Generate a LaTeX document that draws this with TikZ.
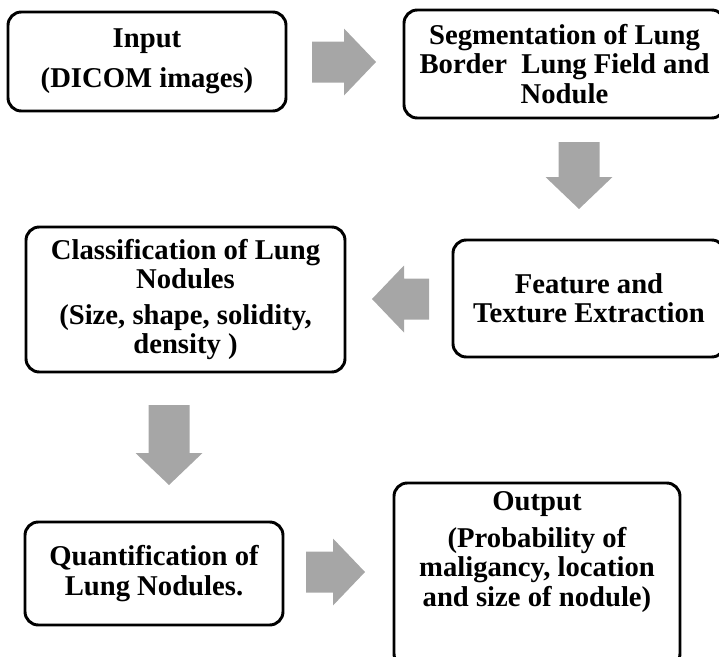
\documentclass[tikz,border=0pt]{standalone}
\usepackage{fontspec}
\setmainfont{Liberation Serif}
\definecolor{arrowgray}{HTML}{A6A6A6}
\begin{document}
\begin{tikzpicture}[x=0.75pt, y=-0.75pt, font=\bfseries\fontsize{21.5}{22}\selectfont,
      box/.style={draw, line width=2.2pt, rounded corners=10pt, align=center, inner sep=0pt},
      txt/.style={align=center, inner sep=0pt},
      pics/barrow/.style={code={\fill[arrowgray] (0,-20.5) -- (#1-32,-20.5) -- (#1-32,-33.5) -- (#1,0) -- (#1-32,33.5) -- (#1-32,20.5) -- (0,20.5) -- cycle;}}]
    \useasboundingbox (0,0) rectangle (719,657);
    \clip (0,0) rectangle (719,657);
    % the six steps
    \node[box, minimum width=208.5pt, minimum height=74.25pt] (input) at (147,61.5) {Input\\[8pt](DICOM images)};
    \node[box, minimum width=240.75pt, minimum height=81pt] (seg) at (564.5,64) {Segmentation of Lung\\Border~ Lung Field and\\Nodule};
    \node[box, minimum width=204pt, minimum height=87.75pt] (feat) at (589,298.5) {Feature and\\Texture Extraction};
    \node[box, minimum width=239.25pt, minimum height=108.75pt] (cls) at (185.5,299.5) {Classification of Lung\\Nodules\\[5pt](Size, shape, solidity,\\density )};
    \node[box, minimum width=193.5pt, minimum height=77.25pt] (quant) at (154,573.5) {Quantification of\\Lung Nodules.};
    \node[box, minimum width=214.5pt, minimum height=138pt] (out) at (537,575) {};
    \node[txt, anchor=north] (outtxt) at (537,491) {Output\\[6pt](Probability of\\maligancy, location\\and size of nodule)};
    % block arrows between them
    \pic (a1) at (312,62) {barrow=64};
    \pic[rotate=-90] (a2) at (579,142) {barrow=67};
    \pic[rotate=180] (a3) at (429,299) {barrow=57};
    \pic[rotate=-90] (a4) at (169,405) {barrow=80};
    \pic (a5) at (306,572) {barrow=59};
  \end{tikzpicture}
\end{document}
